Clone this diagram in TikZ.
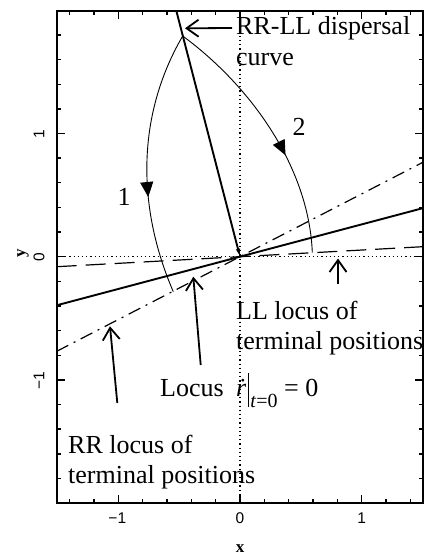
\documentclass[tikz,border=0pt]{standalone}
\usepackage{fontspec}
\setmainfont{Liberation Serif}
\newfontfamily\axfont{Liberation Sans}
\usetikzlibrary{arrows.meta,decorations.markings}
\begin{document}
\begin{tikzpicture}[x=1pt,y=-1pt,
  lbl/.style={font=\fontsize{26}{30}\selectfont, inner sep=0pt, anchor=base west},
  numlbl/.style={font=\fontsize{26}{30}\selectfont, inner sep=0pt},
  ticklbl/.style={font=\axfont\fontsize{15.5}{17}\selectfont, inner sep=0pt},
  axtitle/.style={font=\bfseries\fontsize{17}{18}\selectfont, inner sep=0pt},
  pointer/.style={line width=1.8pt, -{Straight Barb[length=12pt,width=17pt,line width=1.8pt]}},
  frame/.style={line width=2pt},
  tickline/.style={line width=1.4pt},
  refline/.style={line width=1.1pt, dash pattern=on 1.2pt off 3pt},
  dashline/.style={line width=1.2pt, dash pattern=on 20pt off 9pt},
  dashdotline/.style={line width=1.2pt, dash pattern=on 13pt off 6pt on 2pt off 6pt},
  solidline/.style={line width=1.9pt},
  arcline/.style={line width=0.9pt},
  arcarrow/.style={postaction={decorate}, decoration={markings, mark=at position #1 with {\arrow{Triangle[length=15pt,width=13pt]}}}}
]
\useasboundingbox (0,0) rectangle (426,556);

% plot frame
\draw[frame] (56.7,10.7) rectangle (422.7,503.3);

% ticks
\foreach \i in {-7,...,7} {
  \pgfmathsetmacro\px{240+24.34*\i}
  \pgfmathsetmacro\len{ifthenelse(mod(abs(\i),5)==0,8,4)}
  \draw[tickline] (\px,503.3) -- ++(0,-\len);
  \draw[tickline] (\px,10.7) -- ++(0,\len);
}
\foreach \j in {-9,...,9} {
  \pgfmathsetmacro\py{256.7-24.64*\j}
  \pgfmathsetmacro\len{ifthenelse(mod(abs(\j),5)==0,8,4)}
  \draw[tickline] (56.7,\py) -- ++(\len,0);
  \draw[tickline] (422.7,\py) -- ++(-\len,0);
}

% tick labels
\node[ticklbl] (xm1) at (117.3,518) {−1};
\node[ticklbl] (x0) at (240,518) {0};
\node[ticklbl] (x1) at (361.7,518) {1};
\node[ticklbl, rotate=90] (y1) at (39,134) {1};
\node[ticklbl, rotate=90] (y0) at (39,256.7) {0};
\node[ticklbl, rotate=90] (ym1) at (39,381) {−1};
\node[axtitle] (xt) at (240,549) {x};
\node[axtitle, rotate=90] (yt) at (23,253) {y};

% coordinates
\coordinate (O) at (240,256.7);
\coordinate (SL) at (56.7,305.3);
\coordinate (SR) at (422.7,208.2);
\coordinate (DL) at (56.7,351.3);
\coordinate (DR) at (422.7,162.4);
\coordinate (EL) at (56.7,266.7);
\coordinate (ER) at (422.7,246.7);
\coordinate (T) at (176.3,10.7);
\coordinate (P) at (182.7,36);
\coordinate (E1) at (173.3,291.7);
\coordinate (E2) at (312.3,252.5);

\begin{scope}
\clip (56.7,10.7) rectangle (422.7,503.3);
\draw[refline] (56.7,256.7) -- (422.7,256.7);
\draw[refline] (240,10.7) -- (240,503.3);
\draw[dashline] (EL) -- (ER);
\draw[dashdotline] (DL) -- (DR);
\draw[solidline] (SL) -- (SR);
\draw[solidline, -{Triangle[length=8pt,width=3.5pt]}] (T) -- (O);
\end{scope}

% arcs
\draw[arcline, arcarrow=0.63] (P) .. controls (135,118) and (138,210) .. (E1);
\draw[arcline, arcarrow=0.61] (P) .. controls (251.2,86.4) and (308.9,167.5) .. (E2);

% labels
\node[numlbl] (n1) at (124,197) {1};
\node[numlbl] (n2) at (299,127) {2};

\node[lbl] (disp) at (236,35) {RR-LL dispersal};
\node[lbl] (curve) at (236,66) {curve};
\coordinate (a1s) at (232,28);
\coordinate (a1e) at (185,28.3);
\draw[pointer] (a1s) -- (a1e);

\node[lbl] (ll1) at (236,319.7) {LL locus of};
\node[lbl] (ll2) at (236,349.7) {terminal positions};
\coordinate (a2s) at (338,284);
\coordinate (a2e) at (338,258.5);
\draw[pointer] (a2s) -- (a2e);

\node[lbl] (loc) at (160,396) {Locus};
\node[lbl] (form) at (236,396) {\textit{\.r}\hspace{2pt}\rule[-11pt]{1.1pt}{34pt}\hspace{1pt}\raisebox{-11pt}{\fontsize{20}{20}\selectfont\textit{t}=0} = 0};
\coordinate (a3s) at (200.7,365);
\coordinate (a3e) at (193.3,276.7);
\draw[pointer] (a3s) -- (a3e);

\node[lbl] (rr1) at (68,453) {RR locus of};
\node[lbl] (rr2) at (68,483) {terminal positions};
\coordinate (a4s) at (117.3,403);
\coordinate (a4e) at (110,326.3);
\draw[pointer] (a4s) -- (a4e);
\end{tikzpicture}
\end{document}
